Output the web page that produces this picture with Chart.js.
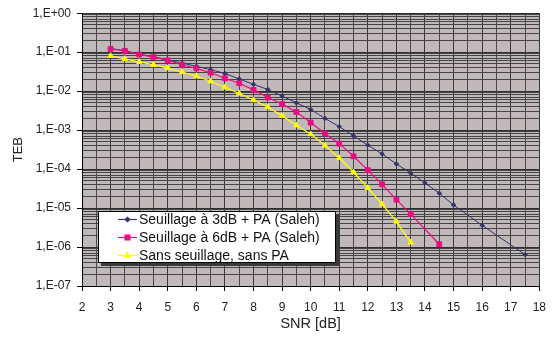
<!DOCTYPE html>
<html>
<head>
<meta charset="utf-8">
<script src="https://cdn.jsdelivr.net/npm/chart.js@4"></script>
<style>
  html, body { margin: 0; padding: 0; background: #fff; }
  #wrap { width: 555px; height: 338px; position: relative; }
</style>
</head>
<body>
<div id="wrap"><canvas id="teb"></canvas></div>
<script>
// SNR values (dB) for each curve
const snrSeuil3 = [3, 3.5, 4, 4.5, 5, 5.5, 6, 6.5, 7, 7.5, 8, 8.5, 9, 9.5, 10, 10.5, 11, 11.5, 12, 12.5, 13, 13.5, 14, 14.5, 15, 16, 17.5];
const tebSeuil3 = [0.124, 0.109, 0.089, 0.0765, 0.0635, 0.0525, 0.0435, 0.0355, 0.0285, 0.0205, 0.015, 0.011, 0.0075, 0.005, 0.0034, 0.002, 0.00123, 0.00071, 0.00041, 0.000245, 0.000135, 7.9e-5, 4.4e-5, 2.4e-5, 1.2e-5, 3.6e-6, 6.4e-7];

const snrSeuil6 = [3, 3.5, 4, 4.5, 5, 5.5, 6, 6.5, 7, 7.5, 8, 8.5, 9, 9.5, 10, 10.5, 11, 11.5, 12, 12.5, 13, 13.5, 14.5];
const tebSeuil6 = [0.121, 0.108, 0.0873, 0.0746, 0.0615, 0.0475, 0.0385, 0.0297, 0.0214, 0.016, 0.0108, 0.00687, 0.00467, 0.00292, 0.00156, 0.00082, 0.00045, 0.000213, 9.4e-5, 4.06e-5, 1.64e-5, 7.0e-6, 1.18e-6];

const snrSans = [3, 3.5, 4, 4.5, 5, 5.5, 6, 6.5, 7, 7.5, 8, 8.5, 9, 9.5, 10, 10.5, 11, 11.5, 12, 12.5, 13, 13.5];
const tebSans = [0.0805, 0.0676, 0.0566, 0.0475, 0.039, 0.031, 0.0245, 0.0179, 0.0126, 0.0087, 0.0059, 0.00392, 0.00235, 0.00133, 0.00079, 0.000406, 0.000193, 8.3e-5, 3.3e-5, 1.26e-5, 4.5e-6, 1.32e-6];

const seriesNames = ["Seuillage à 3dB + PA (Saleh)", "Seuillage à 6dB + PA (Saleh)", "Sans seuillage, sans PA"];
const yTickLabels = ["1,E+00", "1,E-01", "1,E-02", "1,E-03", "1,E-04", "1,E-05", "1,E-06", "1,E-07"];
const xTickLabels = ["2", "3", "4", "5", "6", "7", "8", "9", "10", "11", "12", "13", "14", "15", "16", "17", "18"];

const colors = ["#33336b", "#ee0a84", "#ffff00"];
const shapes = ["rectRot", "rect", "triangle"];
const radii = [2.2, 3.4, 3.2];

const pts = (xs, ys) => xs.map((x, i) => ({ x: x, y: ys[i] }));
const allData = [pts(snrSeuil3, tebSeuil3), pts(snrSeuil6, tebSeuil6), pts(snrSans, tebSans)];

const isPow10 = v => Math.abs(Math.log10(v) - Math.round(Math.log10(v))) < 1e-9;

const plotBg = {
  id: 'plotBg',
  beforeDraw(chart) {
    const a = chart.chartArea, c = chart.ctx;
    c.save();
    c.fillStyle = '#c1b9b9';
    c.fillRect(a.left, a.top, a.right - a.left, a.bottom - a.top);
    c.restore();
  }
};

// legend box with shadow, drawn inside the plot
const boxLegend = {
  id: 'boxLegend',
  afterDraw(chart) {
    const c = chart.ctx;
    const bx = 98, by = 211, bw = 238, bh = 52;
    c.save();
    c.fillStyle = '#3a3a3a';
    c.fillRect(bx + 3, by + 3, bw, bh);
    c.fillStyle = '#fff';
    c.fillRect(bx, by, bw, bh);
    c.strokeStyle = '#000';
    c.lineWidth = 1;
    c.strokeRect(bx + 0.5, by + 0.5, bw - 1, bh - 1);
    c.font = '14px "Liberation Sans", Arial, sans-serif';
    c.textBaseline = 'middle';
    seriesNames.forEach((name, i) => {
      const y = by + 8.5 + i * 18;
      c.strokeStyle = colors[i];
      c.lineWidth = 1.2;
      c.beginPath();
      c.moveTo(118, y);
      c.lineTo(137, y);
      c.stroke();
      c.fillStyle = colors[i];
      Chart.helpers.drawPoint(c, { pointStyle: shapes[i], radius: radii[i], borderWidth: 1 }, 127.5, y);
      c.fill();
      c.fillStyle = '#111';
      c.fillText(name, 139, y + 0.5);
    });
    c.restore();
  }
};

new Chart(document.getElementById('teb'), {
  type: 'line',
  data: {
    datasets: allData.map((d, i) => ({
      label: seriesNames[i],
      data: d,
      borderColor: colors[i],
      backgroundColor: colors[i],
      borderWidth: i === 0 ? 1 : 1.2,
      pointStyle: shapes[i],
      pointRadius: radii[i],
      pointBorderWidth: 1,
      order: 3 - i,
      tension: 0
    }))
  },
  options: {
    responsive: true,
    maintainAspectRatio: false,
    animation: false,
    layout: { padding: { top: 10, right: 13, left: 0, bottom: 0 } },
    plugins: { legend: { display: false }, tooltip: { enabled: false } },
    scales: {
      x: {
        type: 'linear',
        min: 2,
        max: 18,
        afterBuildTicks: s => {
          const t = [];
          for (let v = 2; v <= 18; v += 0.5) t.push({ value: v });
          s.ticks = t;
        },
        afterFit: s => { s.height = 52; },
        ticks: {
          autoSkip: false,
          maxRotation: 0,
          padding: 9,
          color: '#222',
          font: { family: '"Liberation Sans", Arial, sans-serif', size: 12 },
          callback: v => Number.isInteger(v) ? xTickLabels[v - 2] : ''
        },
        grid: {
          color: ctx => Number.isInteger(ctx.tick && ctx.tick.value) ? '#3a3a3a' : '#4a4a4a',
          tickColor: ctx => Number.isInteger(ctx.tick && ctx.tick.value) ? '#000' : 'rgba(0,0,0,0)',
          tickLength: 5
        },
        border: { color: '#000', width: 1 },
        title: {
          display: true,
          text: 'SNR [dB]',
          color: '#222',
          padding: { top: 1, bottom: 5 },
          font: { family: '"Liberation Sans", Arial, sans-serif', size: 14.5 }
        }
      },
      y: {
        type: 'logarithmic',
        min: 1e-7,
        max: 1,
        afterBuildTicks: s => {
          const t = [];
          for (let e = -7; e < 0; e++) {
            for (let m = 1; m <= 9; m++) t.push({ value: m * Math.pow(10, e) });
          }
          t.push({ value: 1 });
          s.ticks = t;
        },
        afterFit: s => { s.width = 82; },
        ticks: {
          autoSkip: false,
          padding: 6,
          color: '#222',
          font: { family: '"Liberation Sans", Arial, sans-serif', size: 12 },
          callback: v => isPow10(v) ? yTickLabels[-Math.round(Math.log10(v))] : ''
        },
        grid: {
          color: ctx => (ctx.tick && isPow10(ctx.tick.value)) ? '#2e2e2e' : '#454545',
          tickColor: ctx => (ctx.tick && isPow10(ctx.tick.value)) ? '#000' : 'rgba(0,0,0,0)',
          tickLength: 5
        },
        border: { color: '#000', width: 1 },
        title: {
          display: true,
          text: 'TEB',
          color: '#222',
          padding: { top: 11, bottom: 2 },
          font: { family: '"Liberation Sans", Arial, sans-serif', size: 13 }
        }
      }
    }
  },
  plugins: [plotBg, boxLegend]
});
</script>
</body>
</html>
